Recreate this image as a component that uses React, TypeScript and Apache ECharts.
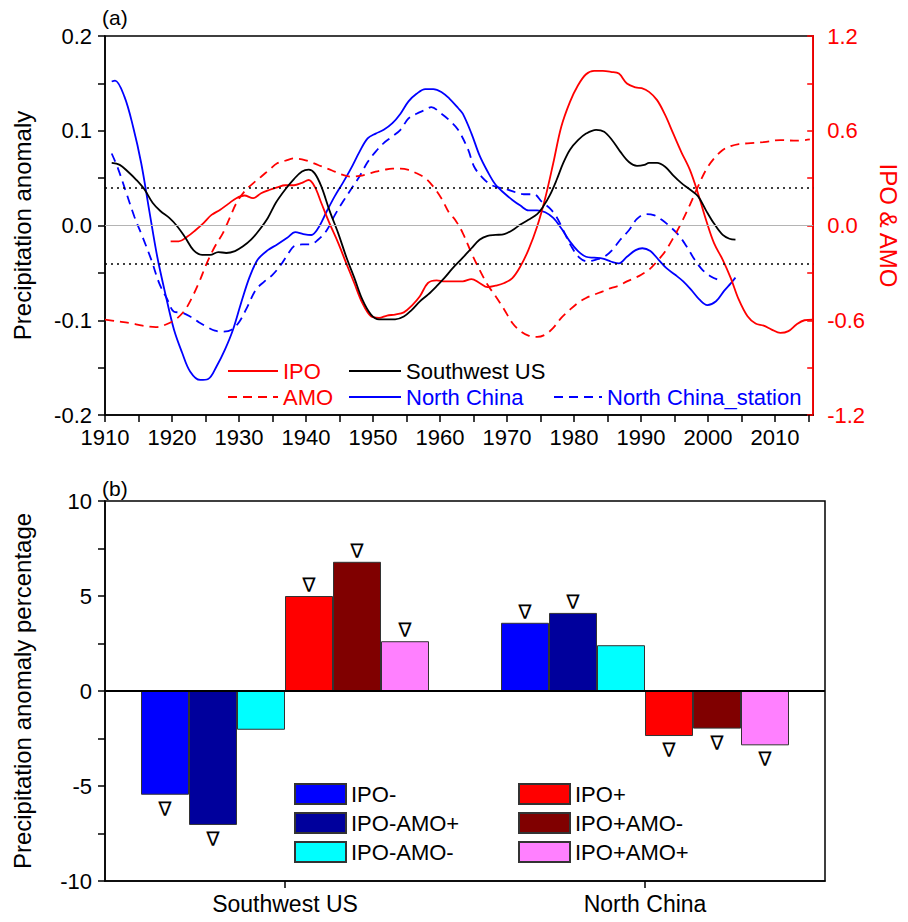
import React, { useEffect, useRef } from "react";
import * as echarts from "echarts";

// ---------- Panel (a) data ----------
const swYears = [1911, 1912.2, 1913.4, 1914.7, 1915.9, 1917.1, 1918.3, 1919.6, 1920.8, 1922, 1923.2, 1924.5, 1925.7, 1926.9, 1928.1, 1929.4, 1930.6, 1931.8, 1933, 1934.3, 1935.5, 1936.9, 1938.2, 1939.4, 1940.4, 1941.3, 1942.3, 1943.5, 1944.8, 1946, 1947.2, 1948.4, 1949.7, 1950.9, 1952.1, 1953.3, 1954.6, 1955.8, 1957, 1958.2, 1959.5, 1960.7, 1961.9, 1963.4, 1964.7, 1965.9, 1967.1, 1968.3, 1969.6, 1970.8, 1972, 1973.2, 1974.5, 1975.4, 1976.4, 1977.4, 1978.4, 1979.4, 1980.6, 1981.8, 1983.3, 1984.5, 1985.7, 1986.9, 1988.2, 1989.4, 1990.5, 1991.2, 1992.4, 1993.6, 1994.8, 1996, 1997.3, 1998.5, 1999.7, 2000.9, 2002.2, 2003.2, 2004.1];
const swValues = [0.066, 0.064, 0.057, 0.048, 0.038, 0.024, 0.015, 0.008, -0.001, -0.013, -0.026, -0.031, -0.031, -0.028, -0.029, -0.027, -0.022, -0.015, -0.005, 0.008, 0.024, 0.038, 0.049, 0.057, 0.059, 0.055, 0.041, 0.016, -0.008, -0.033, -0.055, -0.078, -0.094, -0.099, -0.099, -0.099, -0.096, -0.089, -0.08, -0.073, -0.064, -0.055, -0.045, -0.034, -0.024, -0.015, -0.011, -0.01, -0.009, -0.005, 0.001, 0.006, 0.012, 0.02, 0.032, 0.048, 0.066, 0.08, 0.09, 0.097, 0.101, 0.099, 0.09, 0.078, 0.067, 0.063, 0.064, 0.066, 0.066, 0.062, 0.053, 0.045, 0.038, 0.031, 0.016, 0.002, -0.01, -0.014, -0.015];

const ncYears = [1911, 1911.5, 1912.9, 1914.2, 1915.4, 1916.6, 1917.8, 1919.1, 1920.3, 1921.5, 1922.7, 1924.2, 1925.4, 1926.7, 1927.9, 1929.1, 1930.3, 1931.6, 1932.8, 1934.3, 1935.7, 1937.2, 1938.4, 1939.6, 1940.8, 1941.8, 1943.1, 1944.3, 1945.5, 1946.7, 1948, 1949.2, 1950.4, 1951.6, 1952.9, 1954.1, 1955.3, 1956.5, 1957.8, 1959, 1960.2, 1961.4, 1962.7, 1963.4, 1964.7, 1965.9, 1967.1, 1968.3, 1969.6, 1970.8, 1972, 1973.2, 1974.5, 1975.7, 1976.9, 1978.1, 1979.4, 1980.6, 1981.8, 1983, 1984.3, 1985.5, 1986.7, 1987.9, 1989.2, 1990.2, 1991.4, 1992.6, 1993.8, 1995.1, 1996.3, 1997.5, 1998.7, 1999.9, 2001.2, 2002.4, 2003.4, 2004.1];
const ncValues = [0.152, 0.153, 0.136, 0.104, 0.066, 0.016, -0.033, -0.075, -0.11, -0.134, -0.154, -0.163, -0.162, -0.148, -0.131, -0.11, -0.082, -0.054, -0.036, -0.026, -0.02, -0.013, -0.007, -0.009, -0.01, -0.003, 0.015, 0.031, 0.045, 0.06, 0.078, 0.092, 0.097, 0.101, 0.108, 0.118, 0.131, 0.139, 0.144, 0.144, 0.141, 0.134, 0.124, 0.118, 0.097, 0.074, 0.057, 0.043, 0.034, 0.027, 0.021, 0.016, 0.016, 0.014, 0.008, -0.003, -0.017, -0.027, -0.033, -0.034, -0.035, -0.038, -0.04, -0.033, -0.026, -0.024, -0.027, -0.036, -0.045, -0.052, -0.059, -0.068, -0.078, -0.084, -0.08, -0.069, -0.061, -0.055];

const ncsYears = [1911, 1912, 1913.2, 1914.4, 1915.6, 1916.9, 1918.1, 1919.3, 1920.3, 1921.5, 1922.7, 1924, 1925.2, 1926.4, 1927.6, 1928.9, 1930.1, 1931.3, 1932.5, 1933.8, 1935, 1936.2, 1937.5, 1938.2, 1939.4, 1940.6, 1941.8, 1943.1, 1944.3, 1945.5, 1946.7, 1948, 1949.2, 1950.4, 1951.6, 1952.9, 1954.1, 1955.3, 1956.5, 1957.8, 1958.7, 1960.2, 1961.4, 1962.7, 1964.2, 1965.1, 1966.4, 1967.6, 1968.8, 1970, 1971.3, 1972.5, 1974, 1975.2, 1976.4, 1977.4, 1978.6, 1979.6, 1980.8, 1982, 1983.3, 1984.5, 1985.7, 1986.9, 1988.2, 1989.4, 1990.7, 1991.9, 1993.1, 1994.3, 1995.6, 1996.8, 1998, 1999.2, 2000.5, 2001.4];
const ncsValues = [0.076, 0.059, 0.034, 0.009, -0.012, -0.036, -0.061, -0.078, -0.091, -0.092, -0.096, -0.102, -0.107, -0.111, -0.112, -0.11, -0.101, -0.085, -0.068, -0.059, -0.052, -0.042, -0.028, -0.022, -0.02, -0.02, -0.015, -0.005, 0.011, 0.025, 0.038, 0.052, 0.067, 0.078, 0.087, 0.094, 0.101, 0.113, 0.118, 0.122, 0.125, 0.118, 0.111, 0.101, 0.08, 0.062, 0.05, 0.043, 0.04, 0.038, 0.035, 0.033, 0.033, 0.025, 0.018, 0.009, -0.008, -0.022, -0.034, -0.038, -0.036, -0.033, -0.026, -0.015, -0.005, 0.007, 0.012, 0.011, 0.006, -0.001, -0.01, -0.022, -0.036, -0.047, -0.054, -0.057];

const ipoYears = [1919.8, 1921, 1922.3, 1923.5, 1924.7, 1925.9, 1927.2, 1928.4, 1929.6, 1930.8, 1932.1, 1933.3, 1934.5, 1935.7, 1936.9, 1938.2, 1939.4, 1940.4, 1941.3, 1942.3, 1943.5, 1944.8, 1946, 1947.2, 1948.4, 1949.7, 1950.9, 1952.1, 1953.3, 1954.6, 1955.8, 1957, 1958.2, 1959.5, 1960.7, 1961.9, 1963.4, 1964.7, 1965.9, 1967.1, 1968.3, 1969.6, 1970.8, 1972, 1973.2, 1974.5, 1975.7, 1976.9, 1978.1, 1979.4, 1980.6, 1981.8, 1983, 1984.3, 1985.5, 1986.7, 1987.9, 1989.2, 1990.1, 1991.2, 1992.4, 1993.6, 1994.8, 1996, 1997.3, 1998.5, 1999.7, 2000.9, 2002.2, 2003.4, 2004.6, 2005.9, 2007.1, 2008.3, 2009.5, 2010.8, 2012, 2013.2, 2014.4, 2015.6];
const ipoValues = [-0.1, -0.1, -0.07, -0.03, 0.015, 0.067, 0.1, 0.137, 0.173, 0.19, 0.173, 0.204, 0.225, 0.242, 0.255, 0.255, 0.27, 0.288, 0.246, 0.141, 0.015, -0.11, -0.238, -0.364, -0.49, -0.575, -0.585, -0.57, -0.564, -0.55, -0.507, -0.448, -0.364, -0.347, -0.354, -0.354, -0.354, -0.339, -0.364, -0.39, -0.381, -0.364, -0.333, -0.259, -0.154, -0.006, 0.173, 0.394, 0.625, 0.783, 0.888, 0.958, 0.979, 0.979, 0.973, 0.962, 0.899, 0.874, 0.87, 0.846, 0.794, 0.7, 0.583, 0.467, 0.352, 0.204, 0.036, -0.112, -0.217, -0.333, -0.47, -0.575, -0.621, -0.634, -0.659, -0.68, -0.669, -0.627, -0.6, -0.596];

const amoYears = [1910, 1911.7, 1913.7, 1915.6, 1917.6, 1919.1, 1920.5, 1921.8, 1922.7, 1924, 1925.2, 1926.4, 1927.6, 1928.6, 1929.6, 1930.8, 1932.1, 1933.3, 1934.5, 1935.7, 1936.9, 1938.2, 1939.4, 1940.6, 1941.8, 1943.1, 1944.3, 1945.5, 1946.7, 1948, 1949.2, 1950.4, 1951.6, 1952.9, 1954.1, 1955.3, 1956.5, 1957.8, 1959, 1960.2, 1961.4, 1962.2, 1963.4, 1964.7, 1965.9, 1967.1, 1968.3, 1969.6, 1970.8, 1972, 1973.2, 1974.5, 1975.7, 1976.9, 1978.1, 1979.4, 1980.6, 1981.8, 1983, 1984.3, 1985.5, 1986.7, 1987.9, 1989.2, 1990.1, 1991.2, 1992.4, 1993.6, 1994.8, 1996, 1997.3, 1998.5, 1999.7, 2000.9, 2002.2, 2003.4, 2004.6, 2005.9, 2008.3, 2010.8, 2013.2, 2015.2];
const amoValues = [-0.596, -0.606, -0.617, -0.634, -0.644, -0.627, -0.596, -0.543, -0.48, -0.364, -0.238, -0.133, -0.048, 0.046, 0.141, 0.215, 0.267, 0.309, 0.352, 0.394, 0.41, 0.425, 0.419, 0.404, 0.383, 0.362, 0.341, 0.32, 0.309, 0.314, 0.326, 0.341, 0.352, 0.36, 0.36, 0.352, 0.331, 0.3, 0.246, 0.173, 0.078, 0.04, -0.048, -0.175, -0.28, -0.375, -0.448, -0.533, -0.617, -0.669, -0.697, -0.705, -0.691, -0.648, -0.585, -0.533, -0.49, -0.459, -0.438, -0.417, -0.396, -0.381, -0.354, -0.33, -0.31, -0.28, -0.227, -0.164, -0.08, 0.015, 0.131, 0.246, 0.352, 0.425, 0.478, 0.503, 0.516, 0.52, 0.528, 0.541, 0.537, 0.545];

const threshold = 0.042;
const xTickYears = [1910, 1915, 1920, 1925, 1930, 1935, 1940, 1945, 1950, 1955, 1960, 1965, 1970, 1975, 1980, 1985, 1990, 1995, 2000, 2005, 2010, 2015];
const xLabelYears = [1910, 1920, 1930, 1940, 1950, 1960, 1970, 1980, 1990, 2000, 2010];

// ---------- Panel (b) data ----------
const regions = ["Southwest US", "North China"];
const barNames = ["IPO-", "IPO-AMO+", "IPO-AMO-", "IPO+", "IPO+AMO-", "IPO+AMO+"];
const barColors = ["#0000ff", "#00009c", "#00ffff", "#ff0000", "#800000", "#ff80ff"];
const barValues = [
  [-5.46, 3.59],
  [-7.05, 4.11],
  [-2.04, 2.41],
  [5.0, -2.37],
  [6.8, -1.98],
  [2.62, -2.86],
];
const barSignificant = [
  [true, true],
  [true, true],
  [false, false],
  [true, true],
  [true, true],
  [true, true],
];

const FONT = "'Liberation Sans', Arial, Helvetica, sans-serif";
const RED = "#ff0000";
const BLUE = "#0000ff";

function pairs(xs: number[], ys: number[]) {
  return xs.map((x, i) => [x, ys[i]]);
}

export default function App() {
  const ref = useRef<HTMLDivElement>(null);
  useEffect(() => {
    if (!ref.current) return;
    const chart = echarts.init(ref.current, undefined, { renderer: "svg" });

    const lineBase = (name: string, color: string, dashed: boolean, yAxisIndex: number, xs: number[], ys: number[]) => ({
      name,
      type: "line",
      xAxisIndex: 0,
      yAxisIndex,
      data: pairs(xs, ys),
      smooth: 0.35,
      symbol: "none",
      showSymbol: false,
      lineStyle: { color, width: 1.8, type: dashed ? [9, 6] : "solid" },
      itemStyle: { color },
      z: 3,
    });

    const barSeries = barNames.map((name, si) => ({
      name,
      type: "bar",
      xAxisIndex: 1,
      yAxisIndex: 2,
      barGap: "0%",
      barCategoryGap: "20%",
      itemStyle: { color: barColors[si], borderColor: "#333", borderWidth: 1 },
      data: barValues[si].map((v, ci) => ({
        value: v,
        label: {
          show: barSignificant[si][ci],
          position: v >= 0 ? "top" : "bottom",
          distance: v >= 0 ? 1 : 4,
          formatter: "∇",
          fontSize: 20,
          color: "#000",
          fontFamily: "'DejaVu Sans', sans-serif",
        },
      })),
    }));

    const series: any[] = [
      {
        ...lineBase("Southwest US", "#000000", false, 0, swYears, swValues),
        markLine: {
          silent: true,
          symbol: "none",
          label: { show: false },
          data: [
            { yAxis: 0, lineStyle: { color: "#b4b4b4", width: 1, type: "solid" } },
            { yAxis: threshold, lineStyle: { color: "#000", width: 1.5, type: [2, 4] } },
            { yAxis: -threshold, lineStyle: { color: "#000", width: 1.5, type: [2, 4] } },
          ],
        },
        z: 4,
      },
      lineBase("North China", BLUE, false, 0, ncYears, ncValues),
      lineBase("North China_station", BLUE, true, 0, ncsYears, ncsValues),
      lineBase("IPO", RED, false, 1, ipoYears, ipoValues),
      lineBase("AMO", RED, true, 1, amoYears, amoValues),
      ...barSeries.map((s, i) =>
        i === 0
          ? {
              ...s,
              markLine: {
                silent: true,
                symbol: "none",
                label: { show: false },
                data: [{ yAxis: 0, lineStyle: { color: "#000", width: 2, type: "solid" } }],
              },
            }
          : s
      ),
    ];

    const tickLabel = { color: "#000", fontSize: 22, fontFamily: FONT };
    const legendText = { fontSize: 22, fontFamily: FONT };
    const lineLegendCommon = {
      orient: "vertical",
      itemHeight: 14,
      itemGap: 4,
      itemStyle: { opacity: 0 },
      textStyle: legendText,
    };

    const option: any = {
      animation: false,
      textStyle: { fontFamily: FONT },
      grid: [
        { left: 105, top: 36, width: 719, height: 379, show: true, borderColor: "#000", borderWidth: 1.5, backgroundColor: "transparent" },
        { left: 105, top: 501, width: 720, height: 380, show: true, borderColor: "#000", borderWidth: 1.5, backgroundColor: "transparent" },
      ],
      xAxis: [
        {
          type: "value",
          gridIndex: 0,
          min: 1910,
          max: 2015.7,
          interval: 10,
          splitLine: { show: false },
          axisLine: { show: true, onZero: false, lineStyle: { color: "#000", width: 1.5 } },
          axisTick: { show: true, inside: false, length: 7, customValues: xTickYears, lineStyle: { color: "#000", width: 1.5 } },
          axisLabel: { ...tickLabel, margin: 11, customValues: xLabelYears, formatter: (v: number) => String(Math.round(v)) },
        },
        {
          type: "category",
          gridIndex: 1,
          data: regions,
          axisLine: { show: true, onZero: false, lineStyle: { color: "#000", width: 1.5 } },
          axisTick: { show: true, alignWithLabel: true, length: 7, lineStyle: { color: "#000", width: 1.5 } },
          axisLabel: { ...tickLabel, fontSize: 23, margin: 11 },
          splitLine: { show: false },
        },
      ],
      yAxis: [
        {
          type: "value",
          gridIndex: 0,
          min: -0.2,
          max: 0.2,
          interval: 0.1,
          name: "Precipitation anomaly",
          nameLocation: "middle",
          nameGap: 71,
          nameTextStyle: { color: "#000", fontSize: 24, fontFamily: FONT },
          splitLine: { show: false },
          axisLine: { show: true, onZero: false, lineStyle: { color: "#000", width: 1.5 } },
          axisTick: { show: true, length: 7, lineStyle: { color: "#000", width: 1.5 } },
          minorTick: { show: true, splitNumber: 2, length: 7, lineStyle: { color: "#000", width: 1.5 } },
          axisLabel: { ...tickLabel, margin: 13, formatter: (v: number) => v.toFixed(1) },
        },
        {
          type: "value",
          gridIndex: 0,
          position: "right",
          min: -1.2,
          max: 1.2,
          interval: 0.6,
          name: "IPO & AMO",
          nameLocation: "middle",
          nameRotate: -90,
          nameGap: 60,
          nameTextStyle: { color: RED, fontSize: 24, fontFamily: FONT },
          splitLine: { show: false },
          axisLine: { show: true, onZero: false, lineStyle: { color: RED, width: 1.8 } },
          axisTick: { show: true, inside: true, length: 6, lineStyle: { color: RED, width: 1.5 } },
          minorTick: { show: true, splitNumber: 2, length: 6, lineStyle: { color: RED, width: 1.5 } },
          axisLabel: { color: RED, fontSize: 22, fontFamily: FONT, margin: 14, formatter: (v: number) => v.toFixed(1) },
        },
        {
          type: "value",
          gridIndex: 1,
          min: -10,
          max: 10,
          interval: 5,
          name: "Precipitation anomaly percentage",
          nameLocation: "middle",
          nameGap: 71,
          nameTextStyle: { color: "#000", fontSize: 24, fontFamily: FONT },
          splitLine: { show: false },
          axisLine: { show: true, onZero: false, lineStyle: { color: "#000", width: 1.5 } },
          axisTick: { show: true, length: 7, lineStyle: { color: "#000", width: 1.5 } },
          minorTick: { show: true, splitNumber: 2, length: 7, lineStyle: { color: "#000", width: 1.5 } },
          axisLabel: { ...tickLabel, margin: 13 },
        },
      ],
      legend: [
        {
          ...lineLegendCommon,
          left: 222,
          top: 355,
          itemWidth: 50,
          data: [
            { name: "IPO", textStyle: { color: RED } },
            { name: "AMO", textStyle: { color: RED } },
          ],
        },
        {
          ...lineLegendCommon,
          left: 343,
          top: 355,
          itemWidth: 52,
          data: [
            { name: "Southwest US", textStyle: { color: "#000" } },
            { name: "North China", textStyle: { color: BLUE } },
          ],
        },
        {
          ...lineLegendCommon,
          left: 548,
          top: 381,
          itemWidth: 48,
          data: [{ name: "North China_station", textStyle: { color: BLUE } }],
        },
        {
          orient: "vertical",
          left: 289,
          top: 778,
          icon: "rect",
          itemWidth: 51,
          itemHeight: 20,
          itemGap: 7,
          textStyle: { ...legendText, color: "#000" },
          data: barNames.slice(0, 3),
        },
        {
          orient: "vertical",
          left: 513,
          top: 778,
          icon: "rect",
          itemWidth: 51,
          itemHeight: 20,
          itemGap: 7,
          textStyle: { ...legendText, color: "#000" },
          data: barNames.slice(3),
        },
      ],
      graphic: [
        { type: "text", left: 102, top: 7, style: { text: "(a)", fontSize: 21, fontFamily: FONT, fill: "#000" } },
        { type: "text", left: 102, top: 478, style: { text: "(b)", fontSize: 21, fontFamily: FONT, fill: "#000" } },
      ],
      series,
    };

    chart.setOption(option);
    return () => chart.dispose();
  }, []);

  return <div ref={ref} style={{ position: "absolute", left: 0, top: 0, width: 908, height: 922, background: "#fff" }} />;
}
